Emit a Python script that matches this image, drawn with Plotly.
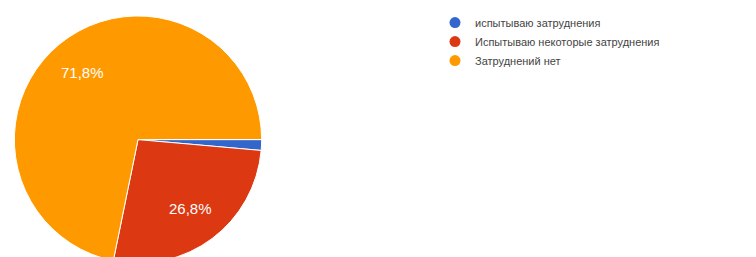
import math
import plotly.graph_objects as go

labels = ["испытываю затруднения", "Испытываю некоторые затруднения", "Затруднений нет"]
values = [1.4, 26.8, 71.8]
text_labels = ["", "26,8%", "71,8%"]
colors = ["#3366cc", "#dc3912", "#ff9900"]

W, H = 756, 276
cx, cy, r = 130, 130, 125

fig = go.Figure()
fig.add_trace(go.Pie(
    labels=labels, values=values, text=text_labels,
    textinfo="none",
    marker=dict(colors=colors, line=dict(color="white", width=1)),
    sort=False, direction="clockwise", rotation=90,
    showlegend=False, hoverinfo="skip",
    domain=dict(x=[(cx - r) / W, (cx + r) / W], y=[(H - cy - r) / H, (H - cy + r) / H]),
))

# slice labels placed at mid-angle of each slice (clockwise from 3 o'clock)
total = sum(values)
start = 0.0
for v, t in zip(values, text_labels):
    mid = start + v / total * 360 / 2
    start += v / total * 360
    if not t:
        continue
    a = math.radians(mid)
    px = cx + 0.7 * r * math.cos(a)
    py = cy + 0.7 * r * math.sin(a)
    fig.add_annotation(
        x=px / W, y=1 - py / H, xref="paper", yref="paper",
        text=t, showarrow=False, xanchor="center", yanchor="middle",
        font=dict(family="Liberation Sans, Arial", size=15, color="white"),
    )

for lab, col in zip(labels, colors):
    fig.add_trace(go.Scatter(
        x=[None], y=[None], mode="markers", name=lab,
        marker=dict(color=col, size=11, symbol="circle"),
        showlegend=True, hoverinfo="skip",
    ))

fig.update_layout(
    width=W, height=H,
    margin=dict(l=0, r=0, t=0, b=0),
    paper_bgcolor="white", plot_bgcolor="white",
    xaxis=dict(visible=False), yaxis=dict(visible=False),
    legend=dict(
        x=427 / W, y=1 + 3 / H, xanchor="left", yanchor="top",
        font=dict(family="Liberation Sans, Arial", size=11, color="#444444"),
        itemwidth=30, tracegroupgap=0, bgcolor="rgba(0,0,0,0)",
    ),
)
fig.write_html("out.html")
